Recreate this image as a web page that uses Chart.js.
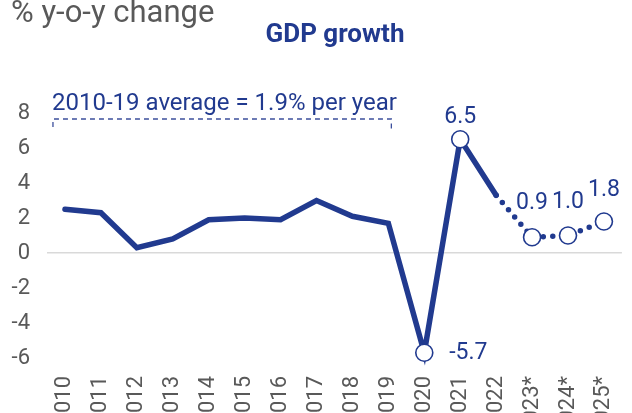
<!DOCTYPE html>
<html>
<head>
<meta charset="utf-8">
<script src="https://cdn.jsdelivr.net/npm/chart.js@4"></script>
<style>
  html, body { margin: 0; padding: 0; background: #fff; overflow: hidden; }
  #wrap { width: 632px; height: 413px; position: relative; }
</style>
</head>
<body>
<div id="wrap"><canvas id="gdpChart"></canvas></div>
<script>
const years = ['2010', '2011', '2012', '2013', '2014', '2015', '2016', '2017', '2018', '2019',
  '2020', '2021', '2022', '2023*', '2024*', '2025*'];
const growth = [2.5, 2.3, 0.3, 0.8, 1.9, 2.0, 1.9, 3.0, 2.1, 1.7, -5.7, 6.5, 3.3, 0.9, 1.0, 1.8];
const markedPoints = [10, 11, 13, 14, 15];
const forecastStart = 12;
const yRange = [-6, 8];
const yStep = 2;
const titleText = '% y-o-y change';
const subtitleText = 'GDP growth';
const averageText = '2010-19 average = 1.9% per year';
const averageSpan = [0, 9];

const BLUE = '#213a8f';
const GREY = '#595959';

const labelOffsets = { 10: [44, 0], 11: [0, -22], 13: [0, -34], 14: [0, -33], 15: [0, -31] };

const extras = {
  id: 'extras',
  afterDatasetsDraw(chart) {
    const ctx = chart.ctx;
    const meta = chart.getDatasetMeta(0);
    const x = chart.scales.x, y = chart.scales.y;
    ctx.save();

    // titles
    ctx.textBaseline = 'alphabetic';
    ctx.fillStyle = GREY;
    ctx.font = '31px Roboto';
    ctx.textAlign = 'left';
    ctx.fillText(titleText, 11, 22);
    ctx.fillStyle = BLUE;
    ctx.font = 'bold 26px Roboto';
    ctx.textAlign = 'center';
    ctx.fillText(subtitleText, 335, 42);

    // average bracket
    const top = y.getPixelForValue(8);
    const x0 = x.getPixelForValue(averageSpan[0]) - 12;
    const x1 = x.getPixelForValue(averageSpan[1]) + 3;
    ctx.font = '24px Roboto';
    ctx.textAlign = 'left';
    ctx.fillText(averageText, 52, top - 3);
    ctx.strokeStyle = '#3c4f9c';
    ctx.lineWidth = 1.3;
    ctx.setLineDash([5, 4]);
    ctx.beginPath();
    ctx.moveTo(x0, top + 14);
    ctx.lineTo(x0, top + 6);
    ctx.lineTo(x1, top + 6);
    ctx.lineTo(x1, top + 16);
    ctx.stroke();
    ctx.setLineDash([]);

    // value labels
    ctx.font = '23px Roboto';
    ctx.textAlign = 'center';
    ctx.textBaseline = 'middle';
    markedPoints.forEach(i => {
      const pt = meta.data[i];
      const off = labelOffsets[i];
      ctx.fillText(growth[i].toFixed(1), pt.x + off[0], pt.y + off[1]);
    });
    ctx.restore();
  }
};

new Chart(document.getElementById('gdpChart'), {
  type: 'line',
  data: {
    labels: years,
    datasets: [{
      data: growth,
      clip: false,
      borderColor: BLUE,
      borderWidth: 5.5,
      borderCapStyle: 'round',
      borderJoinStyle: 'miter',
      tension: 0,
      segment: {
        borderDash: c => c.p0DataIndex >= forecastStart ? [0, 9.5] : undefined
      },
      pointRadius: c => markedPoints.includes(c.dataIndex) ? 8.5 : 0,
      pointHoverRadius: c => markedPoints.includes(c.dataIndex) ? 8.5 : 0,
      pointBackgroundColor: '#fff',
      pointBorderColor: BLUE,
      pointBorderWidth: 1.6
    }]
  },
  options: {
    responsive: true,
    maintainAspectRatio: false,
    animation: false,
    layout: { padding: { top: 113, right: 4, left: 0, bottom: 0 } },
    plugins: { legend: { display: false }, tooltip: { enabled: false }, title: { display: false } },
    scales: {
      x: {
        offset: true,
        grid: { display: false },
        border: { display: false },
        afterFit: s => { s.height = 55; s.paddingLeft = 0; s.paddingRight = 0; },
        ticks: {
          color: GREY,
          font: { family: 'Roboto', size: 22 },
          minRotation: 90,
          maxRotation: 90,
          padding: 10,
          autoSkip: false
        }
      },
      y: {
        min: yRange[0],
        max: yRange[1],
        border: { display: false },
        afterFit: s => { s.width = 47; },
        grid: {
          drawTicks: false,
          color: c => c.tick.value === 0 ? '#d9d9d9' : 'transparent',
          lineWidth: 1.5
        },
        ticks: {
          stepSize: yStep,
          color: GREY,
          font: { family: 'Roboto', size: 22 },
          padding: 17
        }
      }
    }
  },
  plugins: [extras]
});
</script>
</body>
</html>
